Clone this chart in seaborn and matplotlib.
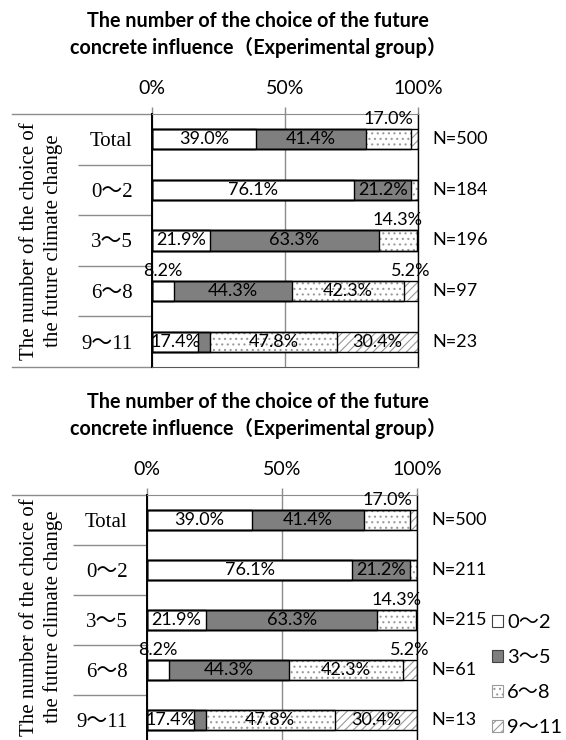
import numpy as np
import pandas as pd
import matplotlib
matplotlib.use("Agg")
import matplotlib.pyplot as plt
import seaborn as sns
from matplotlib.patches import Patch
from matplotlib.transforms import blended_transform_factory

# ---------------- data ----------------
categories = ["Total", "0～2", "3～5", "6～8", "9～11"]
series_names = ["0～2", "3～5", "6～8", "9～11"]
pct_0_2 = [39.0, 76.1, 21.9, 8.2, 17.4]
pct_3_5 = [41.4, 21.2, 63.3, 44.3, 4.3]
pct_6_8 = [17.0, 2.7, 14.3, 42.3, 47.8]
pct_9_11 = [2.6, 0.0, 0.5, 5.2, 30.4]
n_top = [500, 184, 196, 97, 23]
n_bottom = [500, 211, 215, 61, 13]
x_ticks = [0, 50, 100]
x_tick_labels = ["0%", "50%", "100%"]
title_lines = ["The number of the choice of the future",
               "concrete influence（Experimental group）"]
ylabel_lines = ["The number of the choice of", "the future climate change"]
# (category index, series index) of labels not shown / shown above the bar
hidden_labels = [(0, 3), (1, 2), (1, 3), (2, 3), (4, 1)]
raised_labels = [(0, 2), (2, 2), (3, 0), (3, 3)]

# ---------------- style ----------------
fills = ["white", "#7f7f7f", "white", "white"]
hatches = [None, None, "...", "////"]
hatch_gray = "#9a9a9a"
grid_gray = "#8c8c8c"
SANS = ["Lato", "Noto Sans CJK JP", "DejaVu Sans"]
SERIF = ["Liberation Serif", "Noto Sans CJK JP", "DejaVu Sans"]
plt.rcParams["font.family"] = SANS
plt.rcParams["hatch.linewidth"] = 0.8

W, H = 566, 740
fig = plt.figure(figsize=(W / 100, H / 100), dpi=100)


def px_axes(left, top, right, bottom):
    return fig.add_axes([left / W, 1 - bottom / H, (right - left) / W, (bottom - top) / H])


values = np.array([pct_0_2, pct_3_5, pct_6_8, pct_9_11])
cum = np.cumsum(values, axis=0)


def draw_chart(ax, n_vals, title_y, ext_left_px, ylabel_yc):
    # fills (cumulative, drawn from the longest to the shortest)
    for i in reversed(range(4)):
        d = pd.DataFrame({"cat": categories, "val": cum[i]})
        sns.barplot(data=d, x="val", y="cat", orient="h", order=categories,
                    color=fills[i], saturation=1, width=0.4, errorbar=None,
                    hatch=hatches[i], edgecolor=hatch_gray, linewidth=0,
                    ax=ax, zorder=2)
    # outlines
    for i in reversed(range(4)):
        d = pd.DataFrame({"cat": categories, "val": cum[i]})
        sns.barplot(data=d, x="val", y="cat", orient="h", order=categories,
                    fill=False, color="black", width=0.4, errorbar=None,
                    linewidth=1.0, ax=ax, zorder=3)

    ax.set_xlim(0, 100)
    ax.set_ylim(4.5, -0.5)
    ax.set_xlabel("")
    ax.set_ylabel("")
    ax.xaxis.tick_top()
    ax.set_xticks(x_ticks)
    ax.set_xticklabels(x_tick_labels)
    ax.tick_params(axis="x", length=5, width=1, color=grid_gray, pad=7, labelsize=14)
    ax.set_yticks(range(len(categories)))
    ax.set_yticklabels(categories, fontfamily=SERIF, fontsize=15)
    ax.tick_params(axis="y", which="major", length=0, pad=14)
    ax.set_yticks(np.arange(0.5, len(categories) - 1, 1), minor=True)
    ax.tick_params(axis="y", which="minor", length=53, width=1, color=grid_gray)
    ax.grid(axis="x", color=grid_gray, linewidth=1)
    ax.grid(axis="y", visible=False)
    ax.set_axisbelow(True)
    ax.spines["top"].set_color(grid_gray)
    ax.spines["bottom"].set_color("#595959")
    ax.spines["left"].set_color("black")
    ax.spines["left"].set_linewidth(1.4)
    ax.spines["right"].set_color("black")
    ax.spines["right"].set_linewidth(1.0)
    for s in ax.spines.values():
        s.set_zorder(5)

    # table lines extending to the left
    axw = ax.get_position().width * W
    ext = -ext_left_px / axw
    ax.plot([ext, 0], [1, 1], transform=ax.transAxes, clip_on=False, color=grid_gray, lw=1)
    ax.plot([ext, 0], [0, 0], transform=ax.transAxes, clip_on=False, color=grid_gray, lw=1)

    # data labels
    for c in range(len(categories)):
        for s in range(4):
            if (c, s) in hidden_labels:
                continue
            xc = cum[s][c] - values[s][c] / 2
            txt = f"{values[s][c]:.1f}%"
            dy = 14.5 if (c, s) in raised_labels else 0
            ax.annotate(txt, (xc, c), xytext=(0, dy), textcoords="offset points",
                        ha="center", va="center", fontsize=13, zorder=6,
                        annotation_clip=False)
    # N labels
    tr = blended_transform_factory(ax.transAxes, ax.transData)
    for c, n in enumerate(n_vals):
        ax.text(1.055, c, f"N={n}", transform=tr, ha="left", va="center", fontsize=13)

    # title
    for k in range(2):
        fig.text(258 / W, 1 - title_y[k] / H, title_lines[k], ha="center", va="center",
                 fontsize=14.2, fontweight="bold")
    # y axis title
    fig.text(30 / W, 1 - ylabel_yc / H, ylabel_lines[0], rotation=90, ha="center",
             va="center", fontsize=15, fontfamily=SERIF)
    fig.text(53 / W, 1 - ylabel_yc / H, ylabel_lines[1], rotation=90, ha="center",
             va="center", fontsize=15, fontfamily=SERIF)


ax1 = px_axes(152, 114, 418, 367)
draw_chart(ax1, n_top, (21, 48), 140, 241)
ax2 = px_axes(147, 495, 417, 745)
draw_chart(ax2, n_bottom, (402, 429), 135, 617)

handles = [Patch(facecolor=fills[i], hatch=hatches[i],
                 edgecolor=("#404040" if hatches[i] is None else hatch_gray), linewidth=0.8)
           for i in range(4)]
fig.legend(handles, series_names, loc="upper left", bbox_to_anchor=(492 / W, 1 - 614 / H),
           frameon=False, fontsize=14.5, handlelength=0.55, handleheight=0.55,
           handletextpad=0.2, labelspacing=0.9, borderpad=0, borderaxespad=0)

fig.savefig("out.png", dpi=100)
